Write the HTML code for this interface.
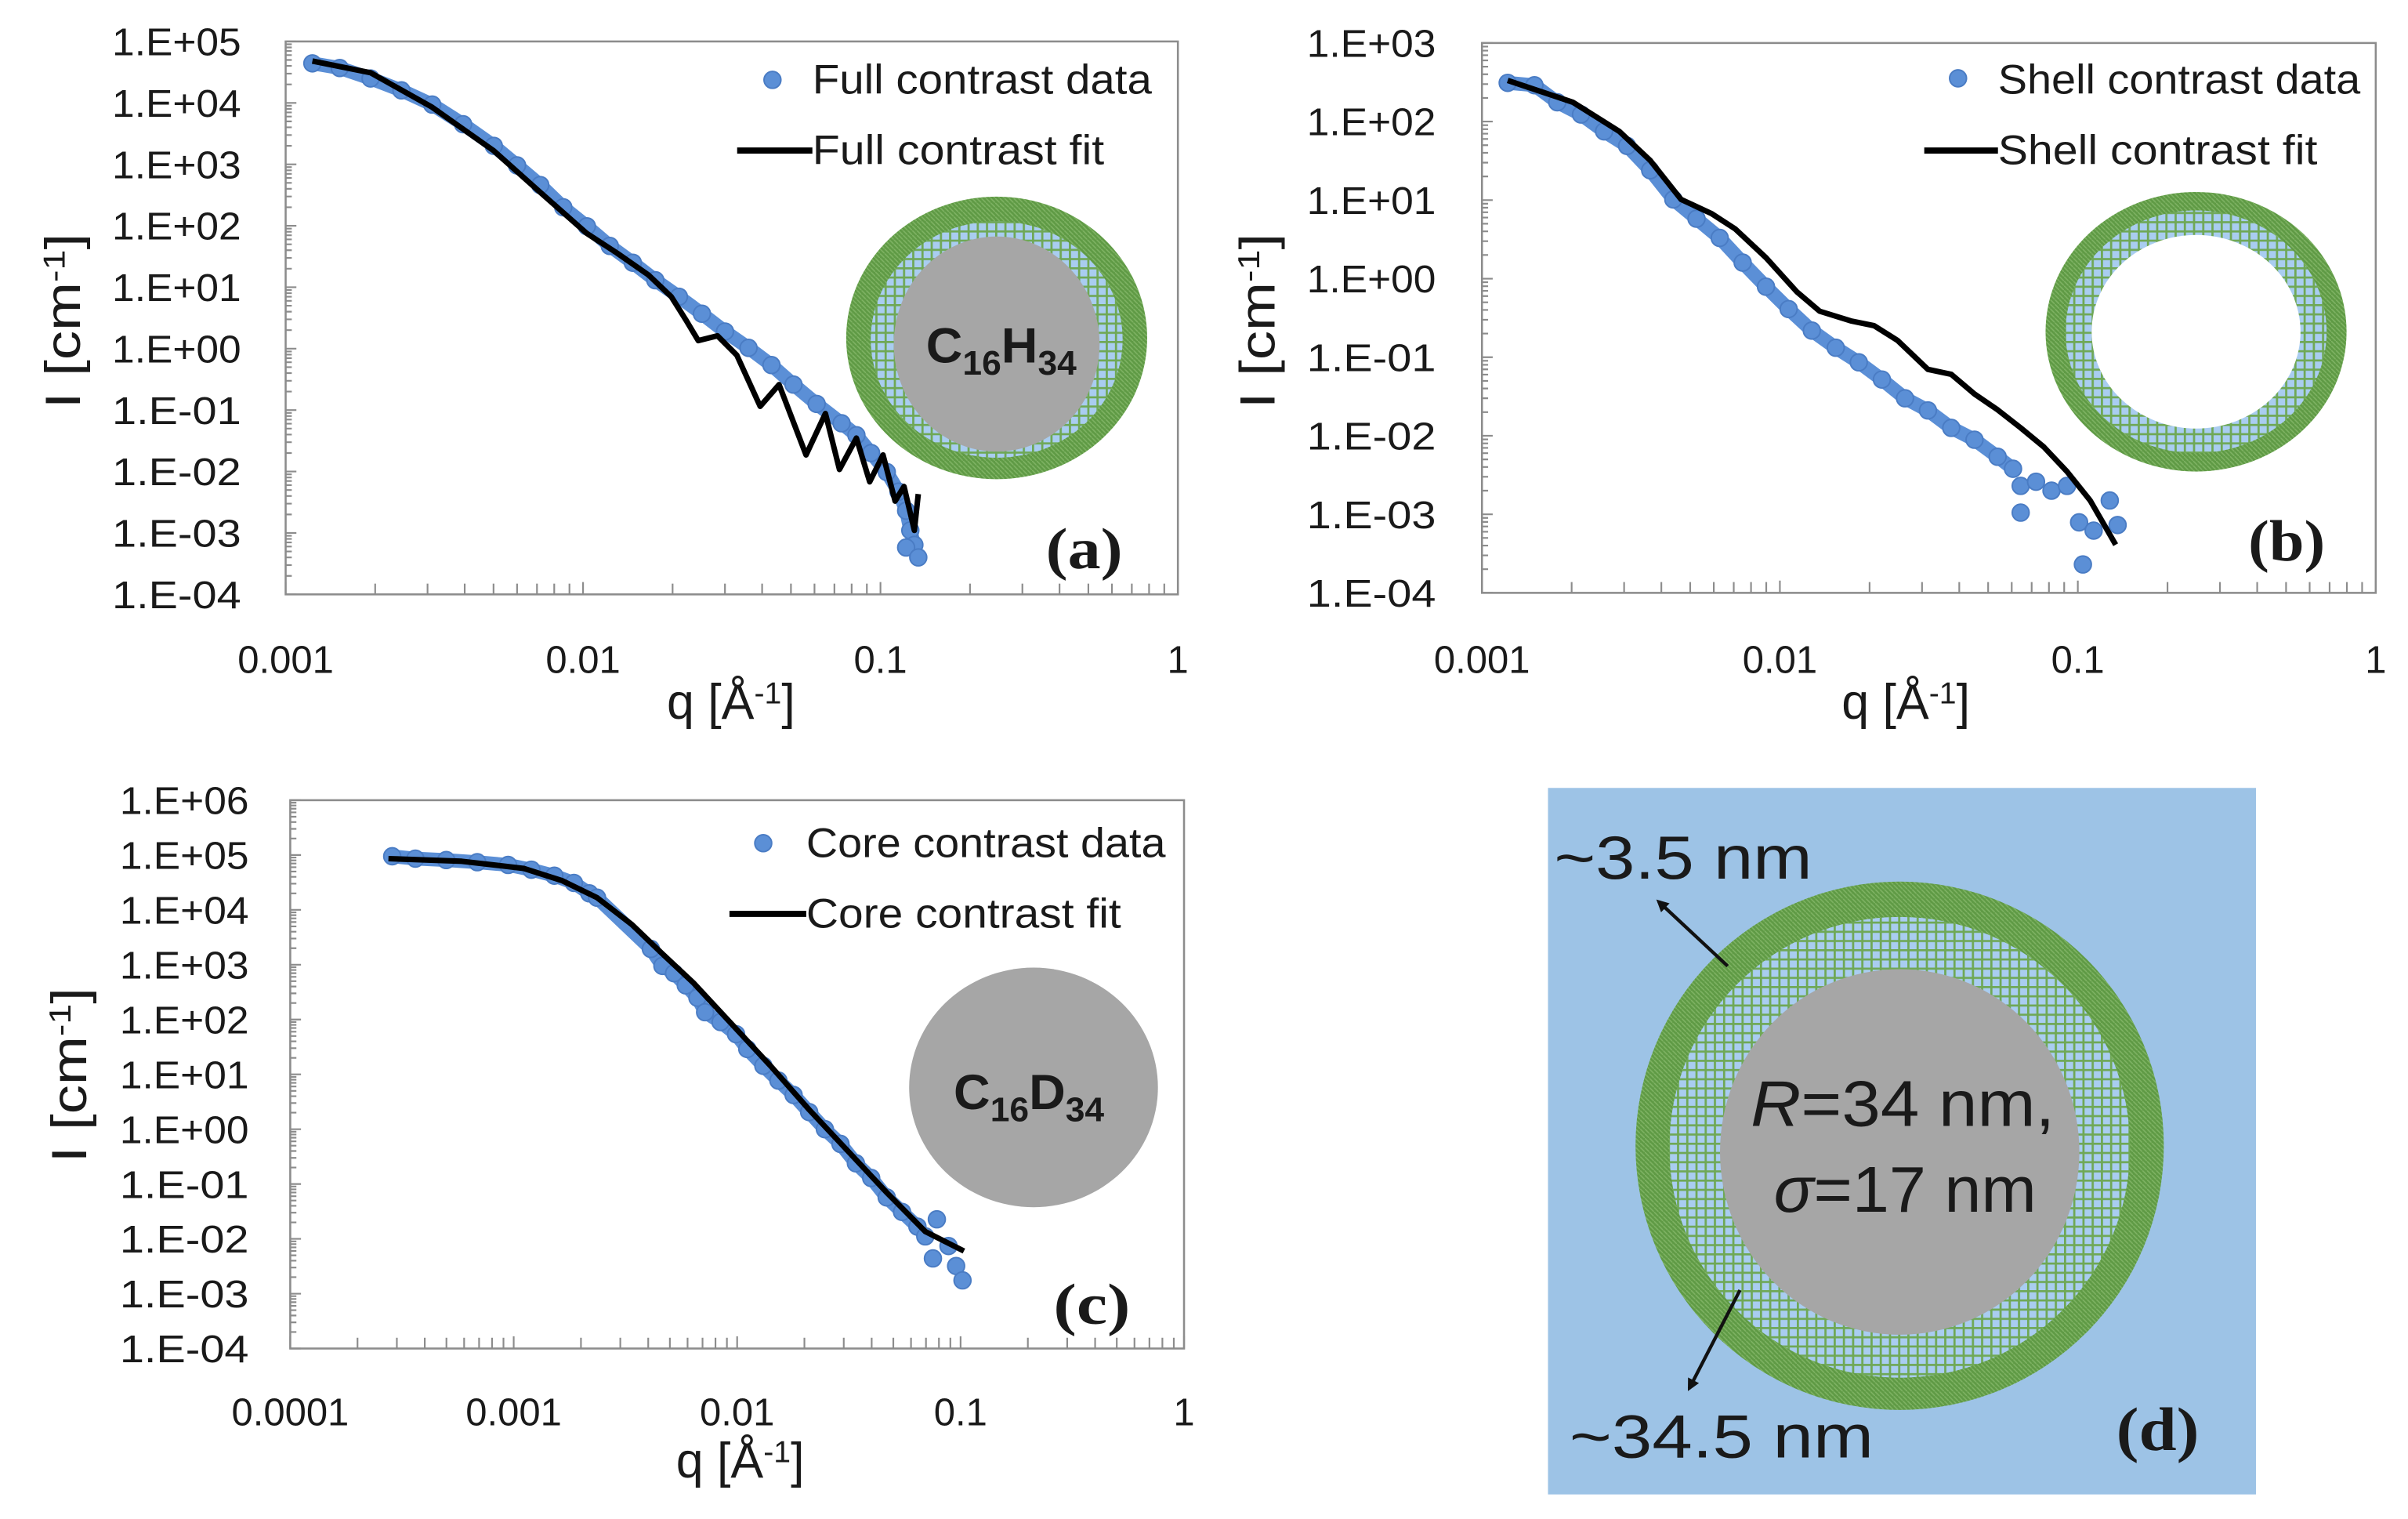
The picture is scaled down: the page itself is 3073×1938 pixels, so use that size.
<!DOCTYPE html>
<html><head><meta charset="utf-8"><style>
html,body{margin:0;padding:0;background:#fff}
svg{display:block}
text{font-family:"Liberation Sans Narrow","Liberation Sans",sans-serif;fill:#1a1a1a}
.tl{font-size:25px}
.serif{font-family:"Liberation Serif",serif;font-weight:bold}
</style></head><body>
<svg id="fig" width="3073" height="1938" viewBox="0 0 1568 989" preserveAspectRatio="none" xmlns="http://www.w3.org/2000/svg">
<defs>
<pattern id="hatch" width="6" height="6" patternUnits="userSpaceOnUse">
<rect width="6" height="6" fill="#a9cdf0"/>
<path d="M0 0.7H6M0.7 0V6" stroke="#6fa856" stroke-width="1.4"/>
</pattern>
<pattern id="ringpat" width="3" height="3" patternUnits="userSpaceOnUse">
<rect width="3" height="3" fill="#5f9a45"/>
<path d="M0 0L3 3" stroke="#7fb364" stroke-width="0.8"/>
</pattern>
<marker id="arr" markerWidth="8" markerHeight="8" refX="6" refY="4" orient="auto" markerUnits="userSpaceOnUse">
<path d="M0 0L8 4L0 8Z" fill="#111"/>
</marker>
</defs>
<g id="panels"></g>

<g>
<rect x="1008" y="513" width="461" height="460" fill="#9dc3e6"/>
<circle cx="1237" cy="746" r="172" fill="url(#ringpat)"/>
<circle cx="1237" cy="747" r="150" fill="url(#hatch)"/>
<ellipse cx="1237" cy="750" rx="117" ry="119" fill="#a6a6a6"/>
<line x1="1125" y1="629" x2="1080" y2="587" stroke="#111" stroke-width="2.2" marker-end="url(#arr)"/>
<line x1="1133" y1="840" x2="1100" y2="904" stroke="#111" stroke-width="2.2" marker-end="url(#arr)"/>
<text x="1012" y="572" font-size="40" textLength="168" lengthAdjust="spacingAndGlyphs">~3.5 nm</text>
<text x="1022" y="949" font-size="40" textLength="198" lengthAdjust="spacingAndGlyphs">~34.5 nm</text>
<text x="1140" y="733" font-size="42" textLength="198" lengthAdjust="spacingAndGlyphs"><tspan font-style="italic">R</tspan>=34 nm,</text>
<text x="1155" y="789" font-size="42" textLength="171" lengthAdjust="spacingAndGlyphs"><tspan font-style="italic">σ</tspan>=17 nm</text>
<text class="serif" x="1378" y="944" font-size="40" textLength="54" lengthAdjust="spacingAndGlyphs">(d)</text>
</g>
</svg>
<script>
// ---- Panel (a) full contrast ----
const aDataQ=[1.23e-3,1.52e-3,1.93e-3,2.45e-3,3.11e-3,3.95e-3,5.01e-3,6.0e-3,7.18e-3,8.58e-3,1.03e-2,1.23e-2,1.47e-2,1.75e-2,2.10e-2,2.51e-2,3.0e-2,3.6e-2,4.3e-2,5.1e-2,6.1e-2,7.4e-2,8.3e-2,9.3e-2,0.105,0.115,0.122,0.126,0.130,0.122,0.134];
const aDataI=[4.4e4,3.7e4,2.5e4,1.6e4,9.4e3,4.5e3,2.0e3,9.6e2,4.6e2,2.0e2,98,47,25,13,7.0,3.7,1.9,1.03,0.54,0.26,0.126,0.061,0.039,0.020,9.8e-3,4.7e-3,2.3e-3,1.1e-3,6.4e-4,5.8e-4,4.0e-4];
const aFitQ=[1.23e-3,1.93e-3,3.11e-3,5.01e-3,7.18e-3,1.03e-2,1.30e-2,1.66e-2,1.98e-2,2.23e-2,2.44e-2,2.83e-2,3.29e-2,3.94e-2,4.56e-2,5.62e-2,6.53e-2,7.28e-2,8.3e-2,9.2e-2,0.102,0.112,0.120,0.130,0.134];
const aFitI=[4.8e4,3.1e4,8.5e3,1.66e3,3.5e2,75,36,15.8,7.0,2.8,1.35,1.62,0.78,0.115,0.26,0.0186,0.088,0.0108,0.035,6.8e-3,0.0186,3.3e-3,5.7e-3,1.1e-3,4.3e-3];
// ---- Panel (b) shell contrast ----
const bDataQ=[1.22e-3,1.50e-3,1.79e-3,2.15e-3,2.57e-3,3.07e-3,3.67e-3,4.39e-3,5.25e-3,6.28e-3,7.5e-3,8.98e-3,1.07e-2,1.28e-2,1.54e-2,1.84e-2,2.20e-2,2.63e-2,3.14e-2,3.76e-2,4.50e-2,5.38e-2,6.06e-2,6.43e-2,6.43e-2,7.24e-2,8.16e-2,9.2e-2,0.101,0.104,0.113,0.128,0.136];
const bDataI=[311,290,176,123,75,49,24,10.2,5.8,3.3,1.6,0.79,0.41,0.218,0.132,0.086,0.052,0.030,0.021,0.0126,8.9e-3,5.4e-3,3.8e-3,2.3e-3,1.05e-3,2.6e-3,2.0e-3,2.3e-3,7.9e-4,2.3e-4,6.2e-4,1.5e-3,7.3e-4];
const bFitQ=[1.22e-3,2.02e-3,2.89e-3,3.67e-3,4.66e-3,5.91e-3,7.08e-3,8.98e-3,1.14e-2,1.36e-2,1.73e-2,2.07e-2,2.48e-2,3.14e-2,3.76e-2,4.50e-2,5.38e-2,6.43e-2,7.69e-2,9.2e-2,0.110,0.134];
const bFitI=[334,176,75,32,10.2,6.7,4.3,1.85,0.68,0.385,0.29,0.252,0.164,0.070,0.0605,0.034,0.0214,0.0126,7.2e-3,3.5e-3,1.5e-3,4.1e-4];
// ---- Panel (c) core contrast ----
const cDataQ=[2.86e-4,3.63e-4,4.99e-4,6.87e-4,9.44e-4,1.20e-3,1.52e-3,1.86e-3,2.18e-3,2.36e-3,4.11e-3,4.63e-3,5.22e-3,5.89e-3,6.64e-3,7.19e-3,8.43e-3,9.89e-3,1.11e-2,1.31e-2,1.53e-2,1.79e-2,2.10e-2,2.47e-2,2.90e-2,3.40e-2,3.98e-2,4.67e-2,5.47e-2,6.41e-2,6.95e-2,7.83e-2,7.52e-2,8.83e-2,9.55e-2,0.102];
const cDataI=[9.5e4,8.6e4,8.1e4,7.4e4,6.6e4,5.4e4,4.2e4,3.1e4,2.0e4,1.67e4,1.94e3,950,700,420,250,136,90,54,29,14.3,7.7,4.2,2.05,1.0,0.54,0.239,0.129,0.057,0.031,0.0167,0.0111,0.0227,4.4e-3,7.4e-3,3.2e-3,1.75e-3];
const cFitQ=[2.75e-4,5.85e-4,1.11e-3,1.65e-3,2.36e-3,3.38e-3,4.63e-3,6.38e-3,9.5e-3,1.41e-2,2.10e-2,3.13e-2,4.67e-2,6.95e-2,0.1035];
const cFitI=[8.6e4,7.7e4,5.7e4,3.4e4,1.67e4,5.4e3,1.58e3,465,81,14.3,2.27,0.40,0.070,0.0136,6.0e-3];
const aYTicks=["1.E+05","1.E+04","1.E+03","1.E+02","1.E+01","1.E+00","1.E-01","1.E-02","1.E-03","1.E-04"];
const bYTicks=["1.E+03","1.E+02","1.E+01","1.E+00","1.E-01","1.E-02","1.E-03","1.E-04"];
const cYTicks=["1.E+06","1.E+05","1.E+04","1.E+03","1.E+02","1.E+01","1.E+00","1.E-01","1.E-02","1.E-03","1.E-04"];
const abXTicks=["0.001","0.01","0.1","1"];
const cXTicks=["0.0001","0.001","0.01","0.1","1"];

const NS="http://www.w3.org/2000/svg";
const root=document.getElementById('panels');
function mk(tag,attrs,parent){const e=document.createElementNS(NS,tag);for(const k in attrs)e.setAttribute(k,attrs[k]);(parent||root).appendChild(e);return e;}

function panel(p){
  const g=mk('g',{});
  
  
  const sx=q=>p.x0+(Math.log10(q)-p.lx0)/(p.lx1-p.lx0)*(p.x1-p.x0);
  const sy=v=>p.y1-(Math.log10(v)-p.ly0)/(p.ly1-p.ly0)*(p.y1-p.y0);
  const box=mk('rect',{x:p.x0,y:p.y0,width:p.x1-p.x0,height:p.y1-p.y0,fill:'none',stroke:'#8c8c8c','stroke-width':1.3},g);
  
  
  let d='';
  for(let e=p.ly0;e<=p.ly1;e++){
    const y=sy(Math.pow(10,e));d+=`M${p.x0} ${y}h7`;
    if(e<p.ly1)for(let m=2;m<10;m++){const ym=sy(m*Math.pow(10,e));d+=`M${p.x0} ${ym}h4`;}
  }
  for(let e=p.lx0;e<=p.lx1;e++){
    const x=sx(Math.pow(10,e));d+=`M${x} ${p.y1}v-8`;
    if(e<p.lx1)for(let m=2;m<10;m++){const xm=sx(m*Math.pow(10,e));d+=`M${xm} ${p.y1}v-7`;}
  }
  const tk=mk('path',{d:d,stroke:'#8c8c8c','stroke-width':1.1,fill:'none'},g);
  
  
  p.yt.forEach((s,i)=>{
    const t=mk('text',{x:p.ylx,y:sy(Math.pow(10,p.ly1-i))+9,'text-anchor':'end',class:'tl',textLength:84,lengthAdjust:'spacingAndGlyphs'},g);
    t.textContent=s;
    
    
  });
  p.xt.forEach((s,i)=>{
    const t=mk('text',{x:sx(Math.pow(10,p.lx0+i)),y:p.xly,'text-anchor':'middle',class:'tl'},g);
    t.textContent=s;
    
    
  });
  const yt=mk('text',{x:0,y:0,'font-size':32,'text-anchor':'middle',transform:`translate(${p.ytx},${p.yty}) rotate(-90)`,textLength:114,lengthAdjust:'spacingAndGlyphs'},g);
  yt.innerHTML='I [cm<tspan dy="-10" font-size="20">-1</tspan><tspan dy="10">]</tspan>';
  
  
  const xt=mk('text',{x:p.xtx,y:p.xty,'font-size':32,'text-anchor':'middle'},g);
  xt.innerHTML='q [Å<tspan dy="-10" font-size="20">-1</tspan><tspan dy="10">]</tspan>';
  
  
  p.inset(g);
  const band=p.dq.slice(0,p.band).map((q,i)=>sx(q)+','+sy(p.di[i])).join(' ');
  const bl=mk('polyline',{points:band,fill:'none',stroke:'#5b8fd6','stroke-width':9,'stroke-linejoin':'round','stroke-linecap':'round'},g);
  
  
  p.dq.forEach((q,i)=>{
    const c=mk('circle',{cx:sx(q),cy:sy(p.di[i]),r:5.5,fill:'#5b8fd6',stroke:'#4a7cc4','stroke-width':1},g);
    
    
  });
  const fl=mk('polyline',{points:p.fq.map((q,i)=>sx(q)+','+sy(p.fi[i])).join(' '),fill:'none',stroke:'#000','stroke-width':3.6,'stroke-linejoin':'round'},g);
  
  
  const lc=mk('circle',{cx:p.lg.cx,cy:p.lg.cy,r:5.5,fill:'#5b8fd6',stroke:'#4a7cc4'},g);
  
  
  const l1=mk('text',{x:p.lg.tx,y:p.lg.ty1,'font-size':27,textLength:p.lg.w1,lengthAdjust:'spacingAndGlyphs'},g);
  l1.textContent=p.lg.t1;
  
  
  const ll=mk('line',{x1:p.lg.lx,x2:p.lg.tx,y1:p.lg.ly,y2:p.lg.ly,stroke:'#000','stroke-width':4},g);
  
  
  const l2=mk('text',{x:p.lg.tx,y:p.lg.ty2,'font-size':27,textLength:p.lg.w2,lengthAdjust:'spacingAndGlyphs'},g);
  l2.textContent=p.lg.t2;
  
  
  const pl=mk('text',{x:p.pl[0],y:p.pl[1],'font-size':38,class:'serif',textLength:50,lengthAdjust:'spacingAndGlyphs'},g);
  pl.textContent='('+p.id+')';
  
  
}
function formula(g,x,y,el,w){
  const t=mk('text',{x:x,y:y,'font-size':32,'font-weight':'bold',textLength:w,lengthAdjust:'spacingAndGlyphs'},g);
  t.innerHTML=`C<tspan dy="8" font-size="22">16</tspan><tspan dy="-8">${el}</tspan><tspan dy="8" font-size="22">34</tspan>`;
  
  
}
panel({id:'a',x0:186,x1:767,y0:27,y1:387,lx0:-3,lx1:0,ly0:-4,ly1:5,yt:aYTicks,xt:abXTicks,ylx:157,xly:438,ytx:52,yty:209,xtx:476,xty:468,
 dq:aDataQ,di:aDataI,fq:aFitQ,fi:aFitI,band:29,pl:[681,370],
 lg:{cx:503,cy:52,tx:529,ty1:61,ty2:107,lx:480,ly:98,t1:'Full contrast data',t2:'Full contrast fit',w1:221,w2:190},
 inset:g=>{
  const o=mk('ellipse',{cx:649,cy:220,rx:98,ry:92,fill:'url(#ringpat)'},g);
  const h=mk('ellipse',{cx:649,cy:221,rx:82,ry:77,fill:'url(#hatch)'},g);
  const c=mk('ellipse',{cx:649,cy:224,rx:67,ry:70,fill:'#a6a6a6'},g);
  formula(g,603,236,'H',98);
 }});
panel({id:'b',x0:965,x1:1547,y0:28,y1:386,lx0:-3,lx1:0,ly0:-4,ly1:3,yt:bYTicks,xt:abXTicks,ylx:935,xly:438,ytx:830,yty:209,xtx:1241,xty:468,
 dq:bDataQ,di:bDataI,fq:bFitQ,fi:bFitI,band:23,pl:[1464,365],
 lg:{cx:1275,cy:51,tx:1301,ty1:61,ty2:107,lx:1253,ly:98,t1:'Shell contrast data',t2:'Shell contrast fit',w1:236,w2:208},
 inset:g=>{
  const o=mk('ellipse',{cx:1430,cy:216,rx:98,ry:91,fill:'url(#ringpat)'},g);
  const h=mk('ellipse',{cx:1430,cy:216,rx:85,ry:79,fill:'url(#hatch)'},g);
  const c=mk('ellipse',{cx:1430,cy:216,rx:68,ry:63,fill:'#fff'},g);
 }});
panel({id:'c',x0:189,x1:771,y0:521,y1:878,lx0:-4,lx1:0,ly0:-4,ly1:6,yt:cYTicks,xt:cXTicks,ylx:162,xly:928,ytx:56,yty:700,xtx:482,xty:962,
 dq:cDataQ,di:cDataI,fq:cFitQ,fi:cFitI,band:31,pl:[686,862],
 lg:{cx:497,cy:549,tx:525,ty1:558,ty2:604,lx:475,ly:595,t1:'Core contrast data',t2:'Core contrast fit',w1:234,w2:205},
 inset:g=>{
  const c=mk('ellipse',{cx:673,cy:708,rx:81,ry:78,fill:'#a6a6a6'},g);
  formula(g,621,722,'D',98);
 }});
</script>
</body></html>
